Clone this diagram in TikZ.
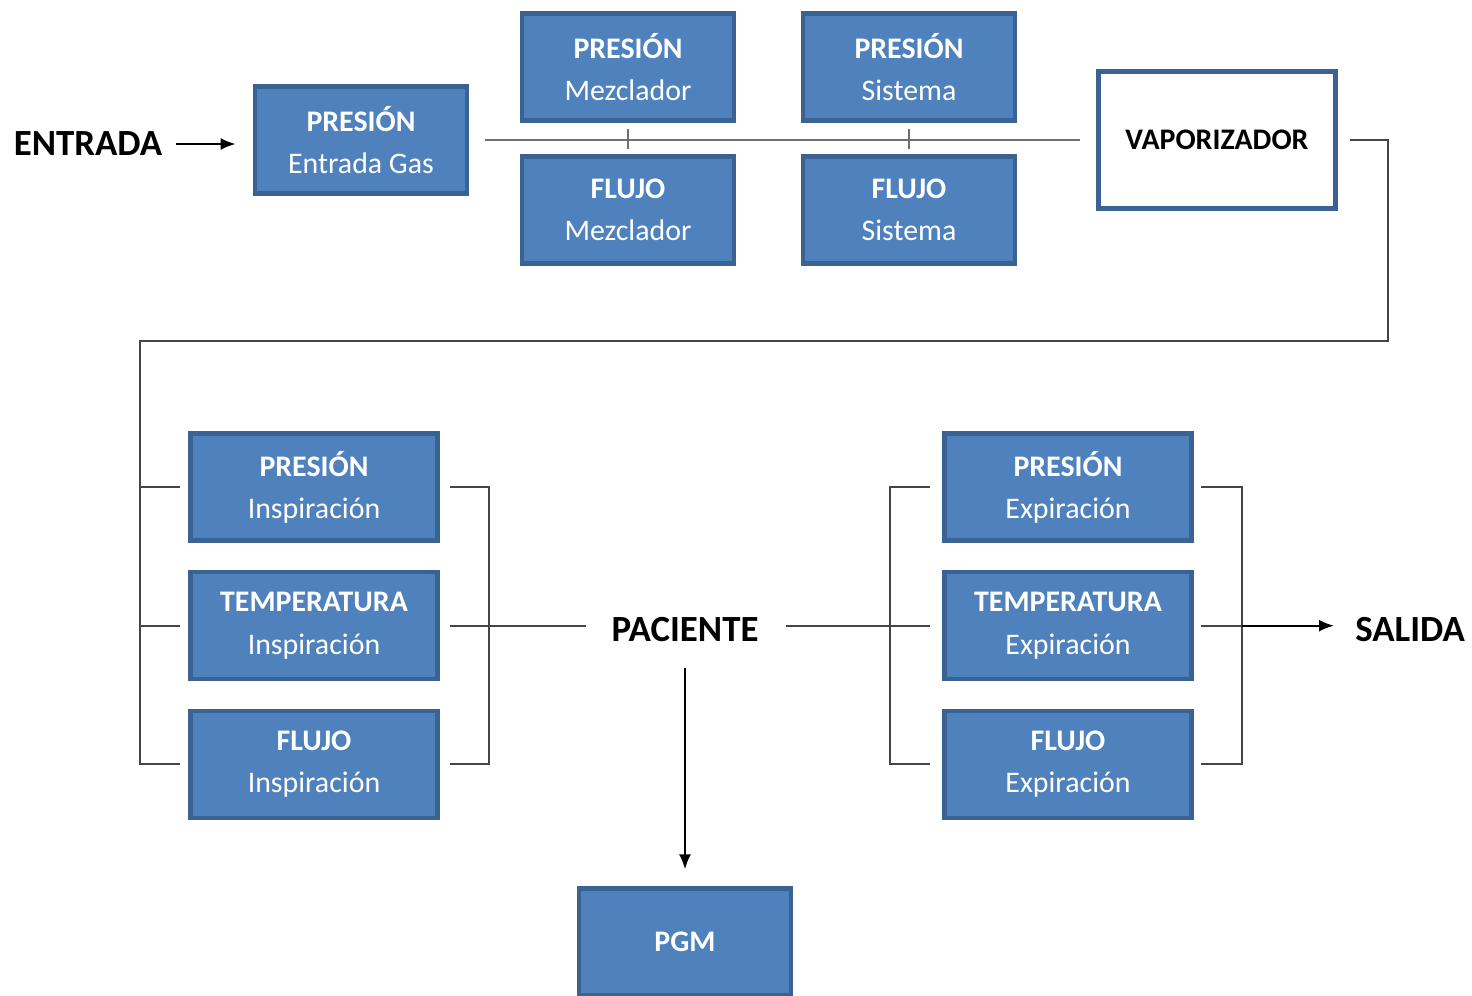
\documentclass[tikz,border=0pt]{standalone}
\usepackage{fontspec}
\setmainfont{Carlito}
\usepackage{tikz}
\usetikzlibrary{arrows.meta, positioning}

\definecolor{boxblue}{HTML}{4F81BD}
\definecolor{boxedge}{HTML}{3A6394}
\definecolor{wire}{HTML}{454545}
\definecolor{mainwire}{HTML}{6E6E6E}

\begin{document}
\begin{tikzpicture}[
    x=0.02cm, y=-0.02cm,
    >={Latex[length=0.3cm, width=0.24cm]},
    blockbox/.style={draw=boxedge, line width=2.4pt, fill=boxblue, text=white,
        minimum width=4.25cm, minimum height=2.14cm, inner sep=0pt, align=center,
        font=\fontsize{17}{24}\selectfont},
    widebox/.style={blockbox, minimum width=4.94cm},
    vapbox/.style={draw=boxedge, line width=3pt, fill=white, text=black,
        minimum width=4.74cm, minimum height=2.74cm, inner sep=0pt,
        font=\fontsize{17}{24}\selectfont\bfseries},
    label/.style={text=black, inner sep=0pt, font=\fontsize{21}{24}\selectfont\bfseries},
    wireline/.style={draw=wire, line width=1.1pt},
    arrowline/.style={draw=black, line width=1.3pt, ->}
]
\useasboundingbox (0,0) rectangle (1472,996);

% entrada y mezcla
\node[label] (entrada) at (88,144) {ENTRADA};
\node[blockbox] (gas) at (361,140) {\textbf{PRESIÓN}\\Entrada Gas};
\node[blockbox] (pmez) at (628,67) {\textbf{PRESIÓN}\\Mezclador};
\node[blockbox] (psis) at (909,67) {\textbf{PRESIÓN}\\Sistema};
\node[blockbox] (fmez) at (628,210) {\textbf{FLUJO}\\Mezclador};
\node[blockbox] (fsis) at (909,210) {\textbf{FLUJO}\\Sistema};
\node[vapbox] (vap) at (1217,140) {VAPORIZADOR};

% inspiracion
\node[widebox] (pins) at (314,487) {\textbf{PRESIÓN}\\Inspiración};
\node[widebox, below=0.55cm of pins] (tins) {\textbf{TEMPERATURA}\\Inspiración};
\node[widebox, below=0.55cm of tins] (fins) {\textbf{FLUJO}\\Inspiración};

% expiracion
\node[widebox] (pexp) at (1068,487) {\textbf{PRESIÓN}\\Expiración};
\node[widebox, below=0.55cm of pexp] (texp) {\textbf{TEMPERATURA}\\Expiración};
\node[widebox, below=0.55cm of texp] (fexp) {\textbf{FLUJO}\\Expiración};

\node[label] (paciente) at (685,630) {PACIENTE};
\node[label, anchor=west] (salida) at (1355,630) {SALIDA};
\node[blockbox, font=\fontsize{17}{24}\selectfont\bfseries] (pgm) at (685,942) {PGM};

\coordinate (turnR) at (1388,341);
\coordinate (turnL) at (140,341);

\draw[arrowline, shorten <=0.26cm, shorten >=0.34cm] (entrada.east) -- (gas.west |- entrada.east);
\draw[draw=mainwire, line width=1.1pt, shorten <=0.32cm, shorten >=0.32cm] (gas.east) -- (vap.west);
\draw[draw=mainwire, line width=1.1pt, shorten <=0.12cm, shorten >=0.1cm] (pmez.south) -- (fmez.north);
\draw[draw=mainwire, line width=1.1pt, shorten <=0.12cm, shorten >=0.1cm] (psis.south) -- (fsis.north);

\draw[wireline] ([xshift=0.24cm]vap.east) -| (turnR) -- (turnL) |- ([xshift=-0.16cm]fins.west);
\draw[wireline] (turnL |- pins.west) -- ([xshift=-0.16cm]pins.west);
\draw[wireline] (turnL |- tins.west) -- ([xshift=-0.16cm]tins.west);

\draw[wireline] ([xshift=0.2cm]pins.east) -| ([xshift=0.98cm]fins.east) -- ([xshift=0.2cm]fins.east);
\draw[wireline, shorten >=0.5cm] ([xshift=0.2cm]tins.east) -- (paciente.west |- tins.east);

\draw[wireline, shorten <=0.54cm] (paciente.east |- texp.west) -- ([xshift=-0.24cm]texp.west);
\draw[wireline] ([xshift=-0.24cm]pexp.west) -| ([xshift=-1.04cm]fexp.west) -- ([xshift=-0.24cm]fexp.west);

\draw[wireline] ([xshift=0.14cm]pexp.east) -| ([xshift=0.96cm]fexp.east) -- ([xshift=0.14cm]fexp.east);
\draw[wireline] ([xshift=0.14cm]texp.east) -- ([xshift=0.96cm]texp.east);
\draw[arrowline, shorten >=0.42cm] ([xshift=0.96cm]texp.east) -- (salida.west |- texp.east);

\draw[arrowline, shorten <=0.5cm, shorten >=0.34cm] (paciente.south) -- (pgm.north);

\end{tikzpicture}
\end{document}
